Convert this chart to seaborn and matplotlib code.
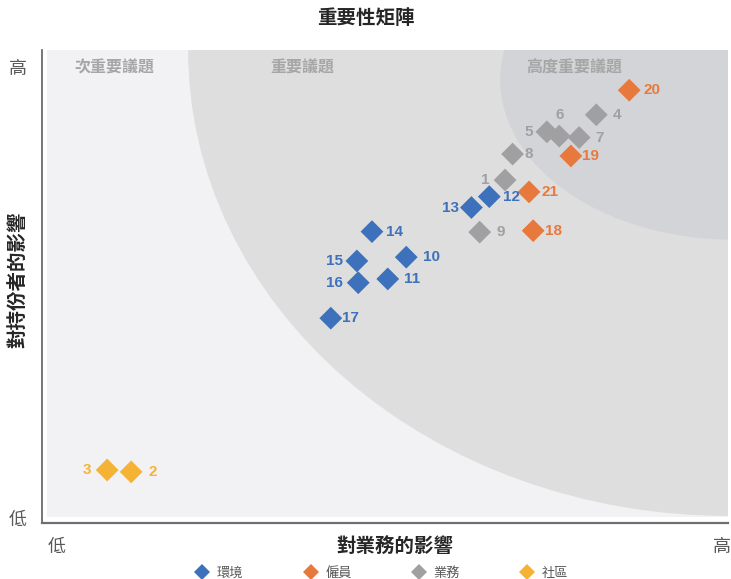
import matplotlib
matplotlib.use("Agg")
import matplotlib.pyplot as plt
from matplotlib.patches import Ellipse, Rectangle
import seaborn as sns
import pandas as pd

# ---------------- data ----------------
issue_ids = [1, 2, 3, 4, 5, 6, 7, 8, 9, 10, 11, 12, 13, 14, 15, 16, 17, 18, 19, 20, 21]
business_impact = [6.75, 1.30, 0.95, 8.08, 7.36, 7.54, 7.83, 6.86, 6.38, 5.31, 5.04,
                   6.52, 6.26, 4.81, 4.59, 4.61, 4.21, 7.16, 7.71, 8.56, 7.10]
stakeholder_impact = [7.25, 1.08, 1.12, 8.63, 8.27, 8.18, 8.15, 7.80, 6.15, 5.62, 5.16,
                      6.90, 6.67, 6.16, 5.54, 5.08, 4.33, 6.18, 7.76, 9.15, 7.00]
issue_category = ["業務", "社區", "社區", "業務", "業務", "業務", "業務", "業務", "業務",
                  "環境", "環境", "環境", "環境", "環境", "環境", "環境", "環境",
                  "僱員", "僱員", "僱員", "僱員"]
categories = ["環境", "僱員", "業務", "社區"]
category_colors = ["#3e71bb", "#e8793d", "#a0a0a3", "#f5b335"]
zone_names = ["次重要議題", "重要議題", "高度重要議題"]
title_text = "重要性矩陣"
x_label = "對業務的影響"
y_label = "對持份者的影響"
tick_names = ["低", "高"]

# label offsets (pixels, relative to marker centre)
label_offsets = {1: (-20, 0), 2: (22, 0), 3: (-20, 0), 4: (21, 0), 5: (-18, 0),
                 6: (0, 21), 7: (20, 0), 8: (16, 0), 9: (21, 0), 10: (25, 0),
                 11: (24, 0), 12: (22, 0), 13: (-21, 0), 14: (23, 0), 15: (-22, 0),
                 16: (-24, 0), 17: (20, 0), 18: (20, 0), 19: (20, 0), 20: (23, 0),
                 21: (21, 0)}

df = pd.DataFrame({"id": issue_ids, "x": business_impact, "y": stakeholder_impact,
                   "cat": issue_category})

# ---------------- style ----------------
sns.set_style("white")
cjk = ["Noto Sans CJK TC", "DejaVu Sans"]
plt.rcParams["font.family"] = cjk
num_font = ["Liberation Sans Narrow", "Liberation Sans", "DejaVu Sans"]

fig = plt.figure(figsize=(7.31, 5.79), dpi=100)
ax = fig.add_axes([42 / 731, 1 - 523 / 579, (728 - 42) / 731, (523 - 50) / 579])
ax.set_xlim(0, 10)
ax.set_ylim(0, 10)

# background zones
light = "#f2f2f4"
mid = "#dedede"
dark = "#d3d4d7"
bg = Rectangle((0.073, 0.127), 10 - 0.073, 10 - 0.127, facecolor=light,
               edgecolor="none", zorder=0)
ax.add_patch(bg)
outer = Ellipse((10, 10), 2 * 7.87, 2 * 9.85, facecolor=mid, edgecolor="none", zorder=0.5)
ax.add_patch(outer)
outer.set_clip_path(bg)
inner = Ellipse((10.08, 9.37), 2 * 3.40, 2 * 3.38, facecolor=dark, edgecolor="none", zorder=0.6)
ax.add_patch(inner)
inner.set_clip_path(bg)

# zone labels
zone_x = [1.05, 3.79, 7.76]
for zx, name in zip(zone_x, zone_names):
    ax.text(zx, 9.62, name, ha="center", va="center", fontsize=11.5,
            fontweight="bold", color="#a6a6a6", family=cjk, zorder=2)

# scatter
palette = dict(zip(categories, category_colors))
sns.scatterplot(data=df, x="x", y="y", hue="cat", hue_order=categories,
                palette=palette, marker="D", s=135, linewidth=0, ax=ax,
                zorder=3, legend=True)

# number labels
for i, xv, yv, c in zip(issue_ids, business_impact, stakeholder_impact, issue_category):
    dx, dy = label_offsets[i]
    ax.annotate(str(i), (xv, yv), xytext=(dx * 0.72, dy * 0.72),
                textcoords="offset points", ha="center", va="center",
                fontsize=11, fontweight="bold", color=palette[c],
                family=num_font, zorder=4)

# axes styling
for s in ["top", "right"]:
    ax.spines[s].set_visible(False)
ax.spines["left"].set_color("#5f5f5f")
ax.spines["left"].set_linewidth(1.2)
ax.spines["bottom"].set_color("#6f6f6f")
ax.spines["bottom"].set_linewidth(1.6)

ax.set_xticks([0.22, 9.91])
ax.set_xticklabels(tick_names)
ax.set_yticks([0.1, 9.64])
ax.set_yticklabels(tick_names)
ax.tick_params(axis="both", length=0, labelsize=13, labelcolor="#595959")
ax.tick_params(axis="x", pad=11)
ax.tick_params(axis="y", pad=11)

ax.set_xlabel(x_label, fontsize=14, fontweight="bold", color="#262626")
ax.xaxis.set_label_coords((395 - 42) / 686, -24 / 473)
ax.set_ylabel(y_label, fontsize=14, fontweight="bold", color="#262626")
ax.yaxis.set_label_coords(-24 / 686, (523 - 280) / 473)
ax.xaxis.label.set_va("center")
ax.yaxis.label.set_va("center")

fig.text(366 / 731, 1 - 19 / 579, title_text, ha="center", va="center",
         fontsize=14, fontweight="bold", color="#262626")

sns.move_legend(ax, "center", bbox_to_anchor=((382 - 42) / 686, -50 / 473),
                ncol=4, frameon=False, title=None, fontsize=9.5,
                handlelength=1.0, handletextpad=0.6, columnspacing=4.6)
leg = ax.get_legend()
for t in leg.get_texts():
    t.set_color("#595959")
for h in leg.legend_handles:
    try:
        h.set_sizes([60])
    except Exception:
        try:
            h.set_markersize(7.8)
        except Exception:
            pass

fig.savefig("out.png", dpi=100)
